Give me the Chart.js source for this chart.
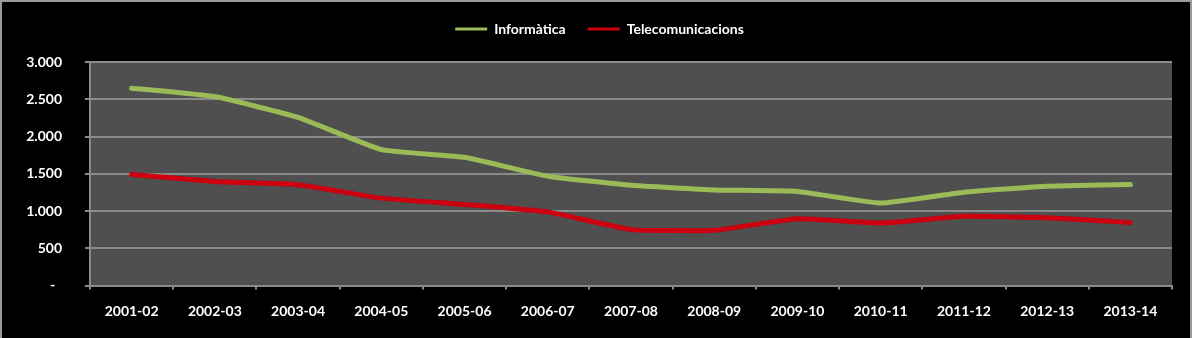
<!DOCTYPE html>
<html>
<head>
<meta charset="utf-8">
<script src="https://cdn.jsdelivr.net/npm/chart.js@4"></script>
<style>
  html, body { margin: 0; padding: 0; background: #000; }
  #wrap { position: relative; width: 1192px; height: 338px; background: #000; }
  #frame { position: absolute; left: 0; top: 0; width: 1192px; height: 338px; box-sizing: border-box;
           border-top: 2px solid #9a9a9a; border-left: 2px solid #9a9a9a; border-right: 2px solid #9a9a9a;
           pointer-events: none; }
</style>
</head>
<body>
<div id="wrap">
  <canvas id="c" width="1192" height="338"></canvas>
  <div id="frame"></div>
</div>
<script>
const categories = ['2001-02', '2002-03', '2003-04', '2004-05', '2005-06', '2006-07', '2007-08',
                    '2008-09', '2009-10', '2010-11', '2011-12', '2012-13', '2013-14'];
const informatica = [2649, 2536, 2256, 1824, 1721, 1467, 1345, 1283, 1262, 1106, 1253, 1333, 1356];
const telecomunicacions = [1489, 1396, 1352, 1173, 1088, 988, 750, 741, 897, 838, 928, 910, 844];
const seriesNames = ['Informàtica', 'Telecomunicacions'];
const yTickValues = [0, 500, 1000, 1500, 2000, 2500, 3000];
const yTickLabels = ['-  ', '500', '1.000', '1.500', '2.000', '2.500', '3.000'];

const FONT = 'Lato, "Open Sans", "DejaVu Sans", sans-serif';

const plotBg = {
  id: 'plotBg',
  beforeDraw(chart) {
    const a = chart.chartArea, ctx = chart.ctx;
    ctx.save();
    ctx.fillStyle = '#4f4f4f';
    ctx.fillRect(a.left, a.top, a.right - a.left, a.bottom - a.top);
    ctx.restore();
  }
};

new Chart(document.getElementById('c'), {
  type: 'line',
  data: {
    labels: categories,
    datasets: [
      { label: seriesNames[0], data: informatica, borderColor: '#9bbb59', backgroundColor: '#9bbb59',
        borderWidth: 5, pointRadius: 0, tension: 0.12, borderCapStyle: 'round', borderJoinStyle: 'round' },
      { label: seriesNames[1], data: telecomunicacions, borderColor: '#cc000f', backgroundColor: '#cc000f',
        borderWidth: 5, pointRadius: 0, tension: 0.12, borderCapStyle: 'round', borderJoinStyle: 'round' }
    ]
  },
  options: {
    responsive: false,
    animation: false,
    layout: { padding: { top: 0, left: 7, right: 0, bottom: 0 } },
    plugins: {
      tooltip: { enabled: false },
      legend: {
        position: 'top',
        labels: {
          color: '#ffffff',
          font: { family: FONT, size: 14, weight: 'bold' },
          usePointStyle: true,
          pointStyle: 'line',
          pointStyleWidth: 32,
          padding: 22,
          generateLabels(chart) {
            return Chart.defaults.plugins.legend.labels.generateLabels(chart).map(l => {
              l.lineWidth = 3; l.pointStyle = 'line'; return l;
            });
          }
        }
      },
      title: { display: true, text: '', weight: 500, padding: 0, font: { size: 16, lineHeight: 1 } }
    },
    scales: {
      x: {
        offset: true,
        grid: { display: true, offset: true, drawOnChartArea: false, drawTicks: true, tickLength: 4, color: '#8a8a8a', lineWidth: 2 },
        border: { display: true, color: '#8a8a8a', width: 2 },
        ticks: { color: '#ffffff', font: { family: FONT, size: 14, weight: 'bold' }, padding: 14, maxRotation: 0, autoSkip: false },
        afterFit(s) { s.height = 338 - 285.5; }
      },
      y: {
        min: 0, max: 3000,
        afterBuildTicks(s) { s.ticks = yTickValues.map(v => ({ value: v })); },
        grid: { color: '#8a8a8a', lineWidth: 2, tickLength: 5, drawTicks: true },
        border: { display: true, color: '#8a8a8a', width: 2 },
        ticks: {
          color: '#ffffff', font: { family: FONT, size: 14, weight: 'bold' }, padding: 23,
          callback(value) { const i = yTickValues.indexOf(value); return i >= 0 ? yTickLabels[i] : ''; }
        },
        afterFit(s) { s.width = 83; }
      },
      yRight: {
        position: 'right', display: true,
        grid: { display: false }, border: { display: false }, ticks: { display: false },
        afterFit(s) { s.width = 20; }
      }
    }
  },
  plugins: [plotBg]
});
</script>
</body>
</html>
